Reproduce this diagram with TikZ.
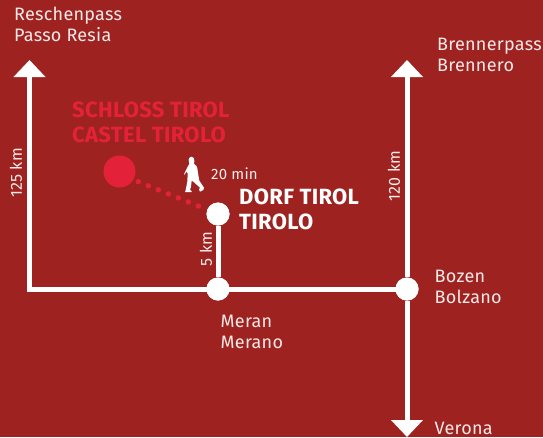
\documentclass[tikz,border=0pt]{standalone}
\usepackage{fontspec}
\setmainfont{Fira Sans}[LetterSpace=1.5]
\usetikzlibrary{arrows.meta}
\definecolor{bgred}{HTML}{9E2320}
\definecolor{hot}{HTML}{E32239}
\tikzset{
  x=1pt,y=-1pt,
  road/.style={draw=white,line width=5pt,miter limit=10},
  roadarrow/.style={road,-{Triangle[length=17pt,width=31pt,fill=white]}},
  stop/.style={circle,fill=white,minimum size=23pt,inner sep=0pt},
  castle/.style={circle,fill=hot,minimum size=32pt,inner sep=0pt},
  place/.style={font=\fontsize{18pt}{21pt}\selectfont,text=white!90!bgred,align=left,anchor=west,inner sep=0pt},
  small/.style={font=\fontsize{15pt}{15pt}\selectfont,text=white!92!bgred,inner sep=0pt},
  side/.style={font=\fontsize{16pt}{16pt}\selectfont,text=white!92!bgred,inner sep=0pt,rotate=90,anchor=center},
  title/.style={font=\fontsize{22pt}{25pt}\selectfont\bfseries,align=left,anchor=west,inner sep=0pt},
  trail/.style={draw=hot,line width=5.4pt,line cap=round,dash pattern=on 0pt off 10.8pt},
}
\begin{document}
\begin{tikzpicture}
\useasboundingbox[fill=bgred] (0,0) rectangle (543,437);
\coordinate (reschen) at (29.5,60);
\coordinate (corner) at (29.5,289);
\coordinate (brenner) at (407,60);
\coordinate (verona) at (407,437);
\node[stop] (meran) at (218,289) {};
\node[stop] (bozen) at (407,289) {};
\node[stop] (dorf) at (218,214) {};
\node[castle] (schloss) at (119.5,171.5) {};
\draw[roadarrow] (corner) -- (reschen);
\draw[road,line cap=rect] (corner) -- (bozen);
\draw[roadarrow] (bozen) -- (brenner);
\draw[roadarrow] (bozen) -- (verona);
\draw[road] (dorf) -- (meran);
\node[stop] at (meran) {};
\node[stop] at (bozen) {};
\node[stop] at (dorf) {};
\coordinate (trailstart) at (138.3,181.7);
\coordinate (trailend) at (199,206.3);
\draw[trail] (trailstart) -- (trailend);
\node[place] (l1) at (14,24.5) {Reschenpass\\Passo Resia};
\node[place] (l2) at (437,55) {Brennerpass\\Brennero};
\node[place] (l3) at (434.5,286.5) {Bozen\\Bolzano};
\node[place] (l4) at (220.5,331.5) {Meran\\Merano};
\node[place,anchor=base west] (l5) at (434.5,434.5) {Verona};
\node[title,text=hot] (t1) at (72,122) {SCHLOSS TIROL\\CASTEL TIROLO};
\node[title,text=white] (t2) at (239,209.5) {DORF TIROL\\TIROLO};
\node[small,anchor=west] (m) at (211,173.5) {20 min};
\node[side] (k1) at (16,173) {125 km};
\node[side] (k2) at (394,176) {120 km};
\node[side] (k3) at (206,249) {5 km};
% walking figure
\begin{scope}[shift={(90,140)},scale=1/3]
\fill[white] (303,50) .. controls (310,49) and (314,56) .. (313,62) -- (312,72)
 .. controls (318,75) and (322,80) .. (322,85) -- (325,105) -- (328,122) -- (342,143) -- (340,150) -- (330,155)
 -- (327,148) -- (330,143) -- (310,125) -- (305,122) -- (303,140) -- (300,150) -- (305,153) -- (305,156)
 -- (285,156) -- (287,150) -- (292,125) -- (293,100) -- (290,95) -- (283,105) -- (283,100) -- (293,80)
 -- (298,72) -- (296,60) .. controls (296,55) and (299,51) .. (303,50) -- cycle;
\end{scope}
\end{tikzpicture}
\end{document}
